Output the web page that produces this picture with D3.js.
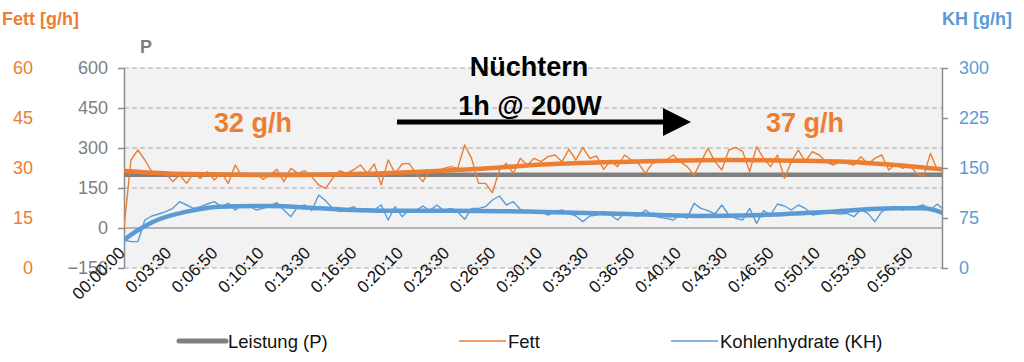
<!DOCTYPE html>
<html>
<head>
<meta charset="utf-8">
<script src="https://cdn.jsdelivr.net/npm/d3@7"></script>
<style>
    body { margin: 0; background: #fff; }
    svg text { font-family: Arial, "Liberation Sans", sans-serif; }
</style>
</head>
<body>
<div id="chart"></div>
<script>

// x axis: one label every 200 s
const tickSec = [0, 200, 400, 600, 800, 1000, 1200, 1400, 1600, 1800, 2000, 2200, 2400, 2600, 2800, 3000, 3200, 3400];
const timeLabels = ["00:00:00", "0:03:30", "0:06:50", "0:10:10", "0:13:30", "0:16:50", "0:20:10", "0:23:30", "0:26:50",
    "0:30:10", "0:33:30", "0:36:50", "0:40:10", "0:43:30", "0:46:50", "0:50:10", "0:53:30", "0:56:50"];
const xMaxSec = 3530;
const sampleStep = 30; // seconds between the samples below

// axis ticks
const pTicks = [-150, 0, 150, 300, 450, 600];
const fettTicks = [0, 15, 30, 45, 60];
const khTicks = [0, 75, 150, 225, 300];

// Leistung (P) [W]
const leistungSec = [0, 3530];
const leistungVals = [200, 200];

// Fett [g/h], one value every 30 s
const fettVals = [
    12, 32.4, 35.4, 32.4, 28.9, 28.6, 28.4, 25.9, 27.9, 25.4,
    28.4, 26.9, 28.9, 26.4, 28.6, 25.4, 30.9, 27.4, 27.9, 28.4,
    26.6, 27.9, 29.6, 25.9, 29.9, 28.4, 29.2, 27.4, 24.9, 23.9,
    26.9, 29.2, 28.4, 29.4, 30.9, 28.4, 31.2, 24.9, 32.4, 28.4,
    31.2, 31.4, 28.4, 25.9, 29.4, 28.9, 29.9, 30.4, 29.9, 36.9,
    32.9, 25.4, 25.4, 22.6, 29.4, 31.4, 28.4, 32.9, 30.9, 32.9,
    31.9, 33.4, 33.9, 31.9, 35.6, 32.4, 36.2, 32.9, 33.6, 29.6,
    32.2, 30.4, 33.9, 32.4, 31.4, 28.4, 31.4, 31.9, 32.4, 33.9,
    31.9, 30.4, 27.9, 31.9, 35.9, 31.9, 29.4, 35.4, 36.2, 34.9,
    28.9, 36.4, 32.9, 30.4, 33.9, 26.9, 31.9, 35.4, 31.9, 34.9,
    33.9, 31.9, 30.9, 31.9, 31.4, 30.9, 33.4, 31.2, 32.9, 33.9,
    29.4, 31.2, 29.9, 30.9, 28.4, 27.4, 34.4, 29.4, 29.9
];

// Kohlenhydrate [g/h], one value every 30 s
const khVals = [
    42, 39.5, 39.5, 72, 78, 81, 84.5, 89.5, 99.5, 94.5,
    89.5, 92, 96, 99.5, 92, 97, 87, 94.5, 93, 87,
    89.5, 93, 98, 87, 77, 92, 94.5, 86, 109.5, 101,
    89.5, 84.5, 87, 92, 84.5, 89.5, 87, 94.5, 72, 92,
    77, 87, 86, 93, 86, 94.5, 86, 89.5, 84.5, 73,
    89.5, 89.5, 92, 102, 108, 94.5, 99.5, 88, 84.5, 83,
    84.5, 79.5, 84.5, 87, 82, 78, 69.5, 78, 79.5, 84.5,
    79.5, 72, 82, 79.5, 78, 87, 79.5, 76, 74.5, 72,
    79.5, 74.5, 97, 89.5, 86, 81, 94.5, 79.5, 74.5, 72,
    89.5, 67, 86, 79.5, 96, 93, 87, 94.5, 89.5, 79.5,
    81, 83, 82, 81, 82, 77, 88, 82, 69.5, 84.5,
    89.5, 92, 87, 89.5, 92, 94.5, 87, 96, 86
];

// trend lines (thick)
const fettTrendSec = [0, 270, 700, 990, 1280, 1570, 1770, 2180, 2620, 2900, 3190, 3330, 3530];
const fettTrendVals = [29.1, 28.2, 27.9, 28.2, 28.9, 29.9, 30.9, 31.9, 32.4, 32.2, 31.6, 30.9, 29.6];
const khTrendSec = [0, 50, 126, 270, 410, 630, 846, 990, 1130, 1420, 1770, 2180, 2470, 2760, 3050, 3330, 3450, 3530];
const khTrendVals = [42, 54.5, 69.5, 84.5, 92, 93, 89.5, 87, 86, 86, 84.5, 81, 78, 79.5, 84.5, 89.5, 89.5, 83];

const legendNames = ["Leistung (P)", "Fett", "Kohlenhydrate (KH)"];

const GREY = "#808080", ORANGE = "#ed7d31", BLUE = "#5b9bd5";


class FuelChart {

    constructor(parentElement) {
        this.parentElement = parentElement;
        this.initVis();
    }

    initVis() {
        let vis = this;

        vis.width = 1024;
        vis.height = 362;
        vis.plot = {left: 124, right: 942, top: 68, bottom: 268};

        vis.svg = d3.select("#" + vis.parentElement).append("svg")
            .attr("width", vis.width)
            .attr("height", vis.height);

        vis.x = d3.scaleLinear().domain([0, xMaxSec]).range([vis.plot.left, vis.plot.right]);
        vis.yP = d3.scaleLinear().domain([-150, 600]).range([vis.plot.bottom, vis.plot.top]);
        vis.yFett = d3.scaleLinear().domain([0, 60]).range([vis.plot.bottom, vis.plot.top]);
        vis.yKH = d3.scaleLinear().domain([0, 300]).range([vis.plot.bottom, vis.plot.top]);

        vis.svg.append("clipPath").attr("id", "plotclip")
            .append("rect")
            .attr("x", vis.plot.left)
            .attr("y", 0)
            .attr("width", vis.plot.right - vis.plot.left)
            .attr("height", vis.height);

        vis.updateVis();
    }

    styleAxis(g, color) {
        g.attr("font-family", null).attr("font-size", null);
        g.selectAll("path.domain").attr("stroke", "#8c8c8c").attr("stroke-width", 1.5);
        g.selectAll(".tick line").attr("stroke", "#8c8c8c").attr("stroke-width", 1.5);
        g.selectAll(".tick text").attr("fill", color).style("font-size", "18px");
    }

    updateVis() {
        let vis = this;
        let p = vis.plot;

        // background + grid
        vis.svg.append("rect")
            .attr("x", p.left).attr("y", p.top)
            .attr("width", p.right - p.left).attr("height", p.bottom - p.top)
            .attr("fill", "#f2f2f2");

        vis.svg.append("g").selectAll("line")
            .data(pTicks.filter(d => d !== 0))
            .enter().append("line")
            .attr("x1", p.left).attr("x2", p.right)
            .attr("y1", d => vis.yP(d)).attr("y2", d => vis.yP(d))
            .attr("stroke", "#a6a6a6")
            .attr("stroke-width", 1.2)
            .attr("stroke-dasharray", "5,3");

        vis.svg.append("line")
            .attr("x1", p.left).attr("x2", p.right)
            .attr("y1", vis.yP(0)).attr("y2", vis.yP(0))
            .attr("stroke", "#a0a0a0")
            .attr("stroke-width", 1.5);

        // axes
        let pAxis = vis.svg.append("g")
            .attr("transform", "translate(" + p.left + ",0)")
            .call(d3.axisLeft(vis.yP).tickValues(pTicks).tickSize(6).tickSizeOuter(0).tickPadding(10));
        vis.styleAxis(pAxis, "#7f7f7f");

        let fAxis = vis.svg.append("g")
            .attr("transform", "translate(36,0)")
            .call(d3.axisLeft(vis.yFett).tickValues(fettTicks).tickSize(0).tickPadding(3));
        vis.styleAxis(fAxis, ORANGE);
        fAxis.select("path.domain").remove();

        let kAxis = vis.svg.append("g")
            .attr("transform", "translate(" + p.right + ",0)")
            .call(d3.axisRight(vis.yKH).tickValues(khTicks).tickSize(6).tickSizeOuter(0).tickPadding(11));
        vis.styleAxis(kAxis, BLUE);

        // x labels
        vis.svg.append("g").selectAll("text")
            .data(tickSec)
            .enter().append("text")
            .attr("transform", d => "translate(" + (vis.x(d) + 2) + ",254) rotate(-45)")
            .attr("text-anchor", "end")
            .attr("font-size", "17px")
            .attr("fill", "#111")
            .text((d, i) => timeLabels[i]);

        // axis titles
        vis.svg.append("text").attr("x", 2).attr("y", 25)
            .attr("font-size", "18px").attr("font-weight", "bold").attr("fill", ORANGE)
            .text("Fett [g/h]");
        vis.svg.append("text").attr("x", 1012).attr("y", 25).attr("text-anchor", "end")
            .attr("font-size", "18px").attr("font-weight", "bold").attr("fill", BLUE)
            .text("KH [g/h]");
        vis.svg.append("text").attr("x", 140).attr("y", 53)
            .attr("font-size", "18px").attr("font-weight", "bold").attr("fill", "#7f7f7f")
            .text("P");

        // series
        let lines = vis.svg.append("g").attr("clip-path", "url(#plotclip)");

        let lineP = d3.line().x((d, i) => vis.x(leistungSec[i])).y(d => vis.yP(d));
        let lineFett = d3.line().x((d, i) => vis.x(i * sampleStep)).y(d => vis.yFett(d));
        let lineKH = d3.line().x((d, i) => vis.x(i * sampleStep)).y(d => vis.yKH(d));
        let trendFett = d3.line().curve(d3.curveMonotoneX)
            .x((d, i) => vis.x(fettTrendSec[i])).y(d => vis.yFett(d));
        let trendKH = d3.line().curve(d3.curveMonotoneX)
            .x((d, i) => vis.x(khTrendSec[i])).y(d => vis.yKH(d));

        lines.append("path").attr("d", lineP(leistungVals))
            .attr("fill", "none").attr("stroke", GREY).attr("stroke-width", 4.5);
        lines.append("path").attr("d", lineFett(fettVals))
            .attr("fill", "none").attr("stroke", ORANGE).attr("stroke-width", 1.4).attr("stroke-linejoin", "round");
        lines.append("path").attr("d", lineKH(khVals))
            .attr("fill", "none").attr("stroke", BLUE).attr("stroke-width", 1.4).attr("stroke-linejoin", "round");
        lines.append("path").attr("d", trendFett(fettTrendVals))
            .attr("fill", "none").attr("stroke", ORANGE).attr("stroke-width", 4.5).attr("stroke-linecap", "round");
        lines.append("path").attr("d", trendKH(khTrendVals))
            .attr("fill", "none").attr("stroke", BLUE).attr("stroke-width", 4.5).attr("stroke-linecap", "round");

        // annotations
        vis.svg.append("text").attr("x", 529).attr("y", 76).attr("text-anchor", "middle")
            .attr("font-size", "27px").attr("font-weight", "bold").attr("fill", "#000")
            .text("Nüchtern");
        vis.svg.append("text").attr("x", 530).attr("y", 115).attr("text-anchor", "middle")
            .attr("font-size", "27px").attr("font-weight", "bold").attr("fill", "#000")
            .text("1h @ 200W");
        vis.svg.append("line")
            .attr("x1", 397).attr("x2", 666).attr("y1", 122).attr("y2", 122)
            .attr("stroke", "#000").attr("stroke-width", 5);
        vis.svg.append("path")
            .attr("d", "M663,108 L691,122 L663,136 Z")
            .attr("fill", "#000");
        vis.svg.append("text").attr("x", 253).attr("y", 132).attr("text-anchor", "middle")
            .attr("font-size", "27px").attr("font-weight", "bold").attr("fill", ORANGE)
            .text("32 g/h");
        vis.svg.append("text").attr("x", 805).attr("y", 132).attr("text-anchor", "middle")
            .attr("font-size", "27px").attr("font-weight", "bold").attr("fill", ORANGE)
            .text("37 g/h");

        // legend
        let legendX = [179, 459, 671];
        let legendColor = [GREY, ORANGE, BLUE];
        let legendWidth = [5, 1.5, 1.5];
        let lg = vis.svg.append("g").selectAll("g")
            .data(legendNames)
            .enter().append("g")
            .attr("transform", (d, i) => "translate(" + legendX[i] + ",341)");
        lg.append("line")
            .attr("x1", 0).attr("x2", 47).attr("y1", 0).attr("y2", 0)
            .attr("stroke", (d, i) => legendColor[i])
            .attr("stroke-width", (d, i) => legendWidth[i])
            .attr("stroke-linecap", (d, i) => i === 0 ? "round" : "butt");
        lg.append("text")
            .attr("x", 49).attr("y", 6.5)
            .attr("font-size", "18.5px").attr("fill", "#111")
            .text(d => d);
    }
}

new FuelChart("chart");
</script>
</body>
</html>
